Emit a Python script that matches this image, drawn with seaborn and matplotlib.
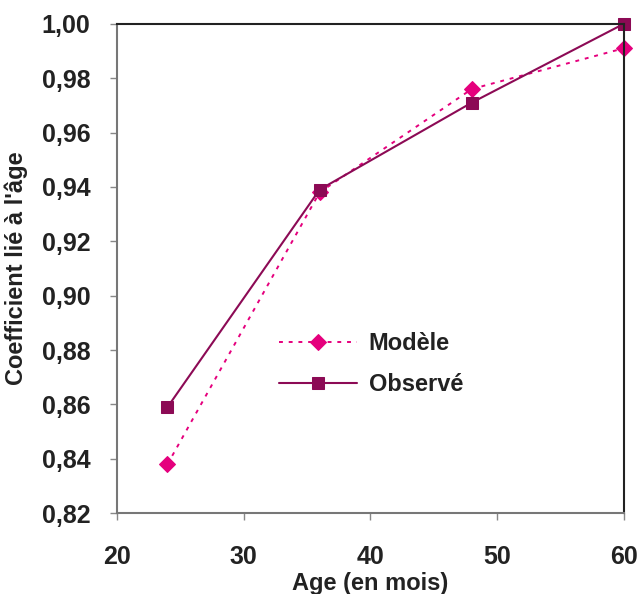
import pandas as pd
import numpy as np
import matplotlib.pyplot as plt
import seaborn as sns

# Data
ages = [24, 36, 48, 60]
modele = [0.838, 0.938, 0.976, 0.991]
observe = [0.859, 0.939, 0.971, 1.000]
y_ticks = [0.82, 0.84, 0.86, 0.88, 0.90, 0.92, 0.94, 0.96, 0.98, 1.00]
x_ticks = [20, 30, 40, 50, 60]

sns.set_style("white")
plt.rcParams["font.family"] = ["Liberation Sans", "DejaVu Sans"]
plt.rcParams["font.weight"] = "bold"
text_col = "#222222"

fig = plt.figure(figsize=(6.38, 5.94), dpi=100)
ax = fig.add_axes([0.183, 0.136, 0.795, 0.824])

df_m = pd.DataFrame({"age": ages, "coef": modele})
df_o = pd.DataFrame({"age": ages, "coef": observe})

sns.lineplot(data=df_m, x="age", y="coef", ax=ax, color="#e5007d",
             linestyle=(0, (2, 3)), linewidth=1.4, marker="D", markersize=8,
             markeredgecolor="#e5007d", label="Modèle", clip_on=False)
sns.lineplot(data=df_o, x="age", y="coef", ax=ax, color="#8c0a55",
             linestyle="-", linewidth=1.5, marker="s", markersize=9,
             markeredgecolor="#8c0a55", label="Observé", clip_on=False)

ax.set_xlim(20, 60)
ax.set_ylim(0.82, 1.00)
ax.set_xticks(x_ticks)
ax.set_yticks(y_ticks)
ax.set_xticklabels([str(t) for t in x_ticks], fontsize=18, fontweight="bold",
                   color=text_col)
ax.set_yticklabels([f"{t:.2f}".replace(".", ",") for t in y_ticks],
                   fontsize=18, fontweight="bold", color=text_col)
ax.tick_params(axis="x", direction="out", length=5, width=1, color="#888888",
               bottom=True, pad=18)
ax.tick_params(axis="y", direction="out", length=5, width=1, color="#888888",
               left=True, pad=14)
for side in ["left", "bottom"]:
    ax.spines[side].set_color("#777777")
    ax.spines[side].set_linewidth(1.5)
for side in ["top", "right"]:
    ax.spines[side].set_color("#222222")
    ax.spines[side].set_linewidth(1.5)

ax.set_xlabel("Age (en mois)", fontsize=17, fontweight="bold", labelpad=2,
              color=text_col)
ax.set_ylabel("Coefficient lié à l'âge", fontsize=17, fontweight="bold",
              labelpad=10, color=text_col)

leg = ax.legend(loc="center left", bbox_to_anchor=(0.278, 0.305), frameon=False,
                fontsize=17, handlelength=3.3, handletextpad=0.5,
                labelspacing=0.75)
for t in leg.get_texts():
    t.set_fontweight("bold")
    t.set_color(text_col)

plt.savefig("out.png", dpi=100)
plt.close()
